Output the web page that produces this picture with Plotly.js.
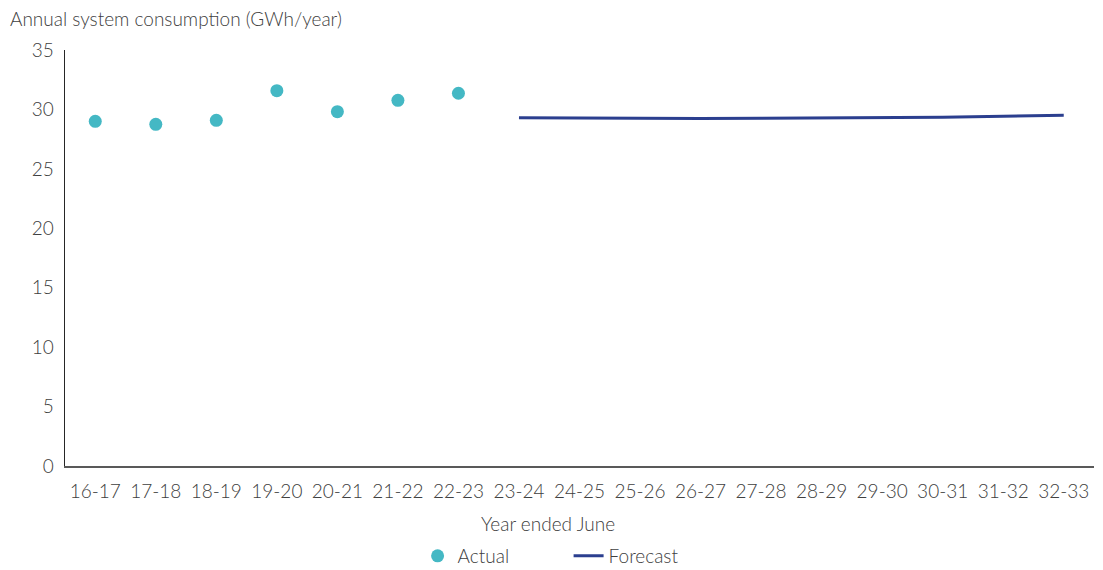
<!DOCTYPE html>
<html>
<head>
<meta charset="utf-8">
<script src="https://cdn.plot.ly/plotly-3.0.1.min.js"></script>
<style>html,body{margin:0;padding:0;background:#fff;}#chart{width:1103px;height:570px;}</style>
</head>
<body>
<div id="chart"></div>
<script>
const years = ["16-17","17-18","18-19","19-20","20-21","21-22","22-23","23-24","24-25","25-26","26-27","27-28","28-29","29-30","30-31","31-32","32-33"];
const actualYears = ["16-17","17-18","18-19","19-20","20-21","21-22","22-23"];
const actualValues = [29.0, 28.75, 29.08, 31.58, 29.81, 30.77, 31.36];
const forecastYears = ["23-24","24-25","25-26","26-27","27-28","28-29","29-30","30-31","31-32","32-33"];
const forecastValues = [29.30, 29.26, 29.22, 29.23, 29.25, 29.27, 29.31, 29.35, 29.43, 29.50];

const font = {family: "Lato, 'Open Sans', sans-serif", size: 19, color: "#404040", weight: 300};

const data = [
  {x: actualYears, y: actualValues, type: "scatter", mode: "markers", name: "Actual",
   marker: {color: "#44B8C4", size: 13}},
  {x: forecastYears, y: forecastValues, type: "scatter", mode: "lines", name: "Forecast",
   line: {color: "#2B3F8F", width: 3}}
];

const layout = {
  width: 1103, height: 570,
  margin: {l: 65, r: 9, t: 50, b: 104, autoexpand: false},
  paper_bgcolor: "#fff", plot_bgcolor: "#fff",
  font: font,
  showlegend: true,
  legend: {orientation: "h", xref: "container", x: 0.5155, xanchor: "center",
           yref: "container", y: 14/570, yanchor: "middle",
           font: font, itemwidth: 30, entrywidth: 106, traceorder: "normal"},
  xaxis: {type: "category", categoryorder: "array", categoryarray: years,
          range: [-0.5, 16.5], showgrid: false, zeroline: false, automargin: false,
          showline: true, linecolor: "#595959", linewidth: 1.5, ticks: "",
          tickfont: font, ticklabelstandoff: 8},
  yaxis: {range: [0, 35], dtick: 5, showgrid: false, zeroline: false, automargin: false,
          showline: true, linecolor: "#262626", linewidth: 1.5, ticks: "",
          tickfont: font, ticklabelstandoff: 6},
  annotations: [
    {text: "Annual system consumption (GWh/year)", xref: "paper", yref: "paper",
     x: -65/1029, xanchor: "left", y: 1 + 32/416, yanchor: "middle", showarrow: false,
     font: font, xshift: 8},
    {text: "Year ended June", xref: "paper", yref: "paper",
     x: (548-65)/1029, xanchor: "center", y: -57/416, yanchor: "middle", showarrow: false,
     font: font}
  ]
};

Plotly.newPlot("chart", data, layout, {displayModeBar: false, staticPlot: true});
</script>
</body>
</html>
